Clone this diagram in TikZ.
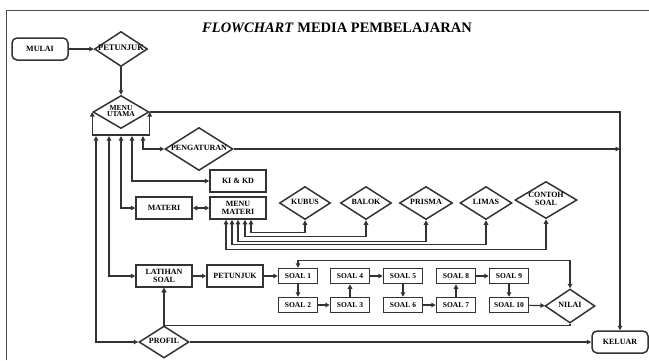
\documentclass[tikz,border=0pt]{standalone}
\usepackage{fontspec}
\setmainfont{Liberation Serif}
\usetikzlibrary{shapes.geometric,arrows.meta}
\tikzset{
  garis/.style={draw=black!80, line width=1.5pt},
  proses/.style={garis, rectangle, minimum width=56pt, minimum height=22pt, inner sep=1pt,
    align=center, font=\bfseries\fontsize{8}{8.5}\selectfont},
  soal/.style={proses, minimum width=39pt, minimum height=15pt, font=\bfseries\fontsize{7.5}{8}\selectfont},
  terminal/.style={proses, rounded corners=5pt},
  pilihan/.style={garis, diamond, inner sep=0pt, font=\bfseries\fontsize{8}{8.5}\selectfont},
  panah/.style={draw=black!80, line width=1.2pt, -{Triangle[length=4.5pt,width=4.5pt]}},
  panahdua/.style={panah, {Triangle[length=4.5pt,width=4.5pt]}-{Triangle[length=4.5pt,width=4.5pt]}},
}
\newcommand{\isian}[1]{\makebox[0pt]{\renewcommand{\arraystretch}{0.8}\begin{tabular}{@{}c@{}}#1\end{tabular}}}
\begin{document}
\begin{tikzpicture}[x=1pt,y=-1pt]
  \useasboundingbox (0,0) rectangle (649,360);
  % Bingkai dan judul
  \draw[black!70, line width=0.8pt] (6,360) -- (6,10) -- (649,10);
  \node[font=\bfseries\fontsize{14.5}{16}\selectfont] (judul) at (337,28) {\textit{FLOWCHART} MEDIA PEMBELAJARAN};
  % Awal dan menu utama
  \node[terminal] (mulai) at (40,49) {MULAI};
  \node[pilihan, minimum width=53pt, minimum height=35pt, font=\bfseries\fontsize{8.5}{9}\selectfont] (petunjuk) at (121,49) {\isian{PETUNJUK}};
  \node[pilihan, minimum width=56pt, minimum height=33pt, font=\bfseries\fontsize{7.5}{8}\selectfont] (utama) at (121,112) {\isian{MENU\\UTAMA}};
  \node[pilihan, minimum width=68pt, minimum height=43pt] (atur) at (199,149) {\isian{PENGATURAN}};
  \node[proses] (kikd) at (238,181) {KI \& KD};
  \node[proses] (materi) at (164,208) {MATERI};
  \node[proses] (menumateri) at (238,208) {MENU\\MATERI};
  % Pilihan materi
  \node[pilihan, minimum width=51pt, minimum height=33pt] (kubus) at (305,203) {\isian{KUBUS}};
  \node[pilihan, minimum width=51pt, minimum height=33pt] (balok) at (366,203) {\isian{BALOK}};
  \node[pilihan, minimum width=53pt, minimum height=33pt] (prisma) at (426,203) {\isian{PRISMA}};
  \node[pilihan, minimum width=52pt, minimum height=33pt] (limas) at (486,203) {\isian{LIMAS}};
  \node[pilihan, minimum width=62pt, minimum height=37pt] (contoh) at (546,200) {\isian{CONTOH\\SOAL}};
  % Latihan soal
  \node[proses] (latihan) at (164,276) {LATIHAN\\SOAL};
  \node[proses] (petunjukdua) at (235,276) {PETUNJUK};
  \node[soal] (soal1) at (298,276) {SOAL 1};
  \node[soal] (soal2) at (298,305) {SOAL 2};
  \node[soal] (soal3) at (350,305) {SOAL 3};
  \node[soal] (soal4) at (350,276) {SOAL 4};
  \node[soal] (soal5) at (403,276) {SOAL 5};
  \node[soal] (soal6) at (403,305) {SOAL 6};
  \node[soal] (soal7) at (456,305) {SOAL 7};
  \node[soal] (soal8) at (456,276) {SOAL 8};
  \node[soal] (soal9) at (509,276) {SOAL 9};
  \node[soal] (soal10) at (509,305) {SOAL 10};
  \node[pilihan, minimum width=50pt, minimum height=34pt] (nilai) at (570,306) {\isian{NILAI}};
  \node[pilihan, minimum width=50pt, minimum height=32pt] (profil) at (164,342) {\isian{PROFIL}};
  \node[terminal] (keluar) at (620,342) {KELUAR};
  % Titik cabang
  \coordinate (bus) at (121,135);
  \coordinate (b1) at (96,136);
  \coordinate (b2) at (109,136);
  \coordinate (b3) at (121,136);
  \coordinate (b4) at (132,136);
  \coordinate (b5) at (143,136);
  \coordinate (m1) at ([xshift=-12pt]menumateri.south);
  \coordinate (m2) at ([xshift=-6pt]menumateri.south);
  \coordinate (m3) at (menumateri.south);
  \coordinate (m4) at ([xshift=7pt]menumateri.south);
  \coordinate (m5) at ([xshift=13pt]menumateri.south);
  % Alur
  \draw[panah] (mulai) -- (petunjuk);
  \draw[panah] (petunjuk) -- (utama);
  \draw[panah] (utama.east) -| (keluar.north);
  \draw[panah] (atur.east) -- (atur.east -| keluar.north);
  \draw[panahdua] (utama.west) -- (utama.west |- bus) -- (utama.east |- bus) -- (utama.east);
  \draw[panahdua] (b1) |- (profil.west);
  \draw[panahdua] (b2) |- (latihan.west);
  \draw[panahdua] (b3) |- (materi.west);
  \draw[panahdua] (b4) |- (kikd.west);
  \draw[panahdua] (b5) |- (atur.west);
  \draw[panahdua] (materi) -- (menumateri);
  \draw[panahdua] (m5) -- ++(0,13) -| (kubus.south);
  \draw[panahdua] (m4) -- ++(0,17) -| (balok.south);
  \draw[panahdua] (m3) -- ++(0,22) -| (prisma.south);
  \draw[panahdua] (m2) -- ++(0,25) -| (limas.south);
  \draw[panahdua] (m1) -- ++(0,30) -| (contoh.south);
  \draw[panah] (latihan) -- (petunjukdua);
  \draw[panah] (petunjukdua) -- (soal1);
  \draw[panah] (soal1) -- (soal2);
  \draw[panah] (soal2) -- (soal3);
  \draw[panah] (soal3) -- (soal4);
  \draw[panah] (soal4) -- (soal5);
  \draw[panah] (soal5) -- (soal6);
  \draw[panah] (soal6) -- (soal7);
  \draw[panah] (soal7) -- (soal8);
  \draw[panah] (soal8) -- (soal9);
  \draw[panah] (soal9) -- (soal10);
  \draw[panah] (soal10) -- (nilai);
  \draw[panahdua] (soal1.north) -- ++(0,-7) -| (nilai.north);
  \draw[panah] (nilai.south) -- ++(0,1.5) -| (latihan.south);
  \draw[panah] (profil) -- (latihan);
  \draw[panah] (profil) -- (keluar);
\end{tikzpicture}
\end{document}
